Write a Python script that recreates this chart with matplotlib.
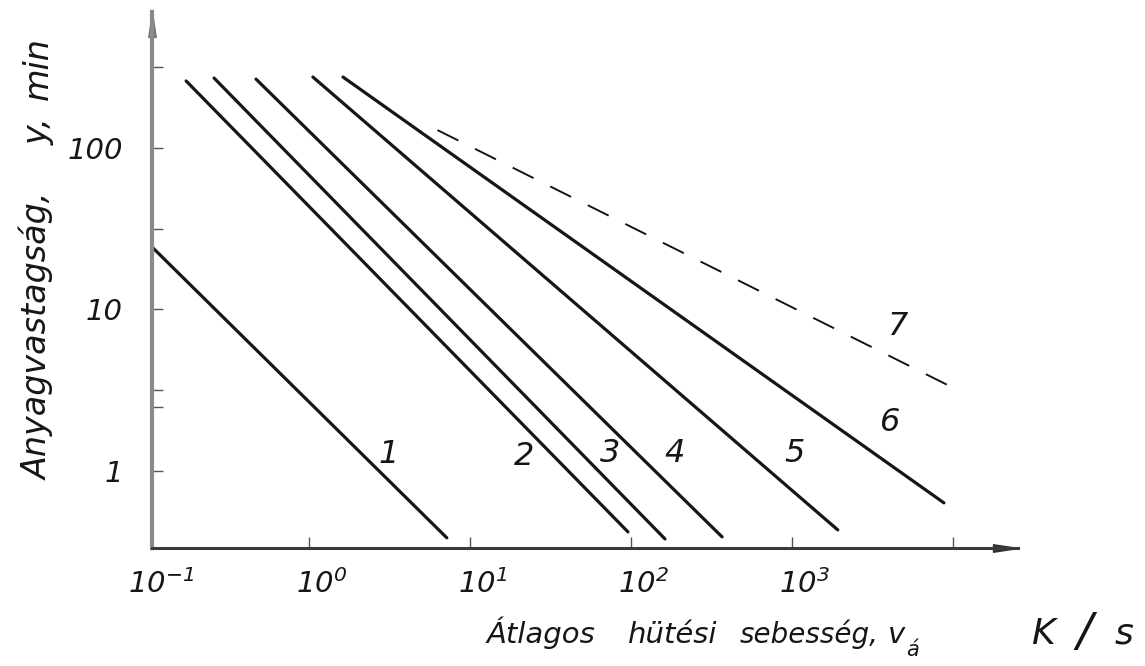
import matplotlib.pyplot as plt
from matplotlib import transforms
from matplotlib.ticker import NullLocator

plt.rcParams['font.family'] = ['DejaVu Sans']
plt.rcParams['font.style'] = 'italic'
plt.rcParams['mathtext.fontset'] = 'custom'
plt.rcParams['mathtext.rm'] = 'DejaVu Sans:italic'
plt.rcParams['mathtext.it'] = 'DejaVu Sans:italic'

# curves 1..6 (solid): start / end points
curve_names = ['1', '2', '3', '4', '5', '6']
v_start = [0.106, 0.173, 0.258, 0.470, 1.06, 1.63]
y_start = [24.4, 260, 271, 267, 275, 275]
v_end = [7.2, 96, 163, 369, 1930, 8800]
y_end = [0.385, 0.419, 0.379, 0.390, 0.431, 0.634]
# where the curve numbers sit
name_v = [3.15, 21.7, 74.3, 188, 1047, 4075]
name_y = [1.26, 1.22, 1.29, 1.29, 1.29, 1.98]

# curve 7 (dashed)
v7 = [6.3, 9300]
y7 = [129, 3.4]
name7_v, name7_y = 4500, 7.8

x_ticks = [0.1, 1, 10, 100, 1000]
x_tick_labels = ['$10^{-1}$', '$10^{0}$', '$10^{1}$', '$10^{2}$', '$10^{3}$']
y_ticks = [1, 2.5, 10**0.5, 10, 10**1.5, 100, 10**2.5]
y_tick_labels = ['1', '', '', '10', '', '100', '']

W, H = 1145, 666
fig = plt.figure(figsize=(W / 100, H / 100), dpi=100)
ax = fig.add_axes([152 / W, 118 / H, 866 / W, 536 / H])
ax.set_xscale('log')
ax.set_yscale('log')
ax.set_xlim(0.1062, 25400)
ax.set_ylim(0.333, 695)

ink = '#161616'
for i in range(len(curve_names)):
    ax.plot([v_start[i], v_end[i]], [y_start[i], y_end[i]],
            color=ink, lw=2.3, solid_capstyle='round')
    ax.text(name_v[i], name_y[i], curve_names[i], fontsize=23,
            ha='center', va='center', color=ink)

ax.plot(v7, y7, color=ink, lw=1.4, dashes=(12, 9.6))
ax.text(name7_v, name7_y, '7', fontsize=23, ha='center', va='center', color=ink)

# axes, hand-drawn look
for s in ['top', 'right']:
    ax.spines[s].set_visible(False)
ax.spines['left'].set_color('#8a8a8a')
ax.spines['left'].set_linewidth(3)
ax.spines['bottom'].set_color('#3a3a3a')
ax.spines['bottom'].set_linewidth(2.2)
# arrow heads with the tip on the end of the spine
head_up = [(0, 0), (-0.3, -2), (0.3, -2), (0, 0)]
ax.plot(0, 1, marker=head_up, ms=36, color='#777777', transform=ax.transAxes,
        clip_on=False)
head_r = [(0, 0), (-2, 0.3), (-2, -0.3), (0, 0)]
ax.plot(1, 0, marker=head_r, ms=36, color='#333333', transform=ax.transAxes,
        clip_on=False)

ax.xaxis.set_minor_locator(NullLocator())
ax.yaxis.set_minor_locator(NullLocator())
ax.set_xticks([1, 10, 100, 1000, 10000])
ax.set_xticklabels([])
ax.set_yticks(y_ticks)
ax.set_yticklabels(y_tick_labels)
ax.tick_params(axis='both', direction='in', length=8, width=1, color='#555555')
ax.tick_params(axis='y', labelsize=21, pad=21, labelcolor=ink)

off = transforms.ScaledTranslation(0.13, -0.36, fig.dpi_scale_trans)
for xv, lab in zip(x_ticks, x_tick_labels):
    ax.text(xv, 0, lab, transform=ax.get_xaxis_transform() + off,
            fontsize=21, ha='center', va='center', color=ink, clip_on=False)

# axis titles
fig.text(487 / W, 23 / H, 'Átlagos', fontsize=21, ha='left', va='baseline', color=ink)
fig.text(628 / W, 23 / H, 'hütési', fontsize=21, ha='left', va='baseline', color=ink)
fig.text(740 / W, 23 / H, 'sebesség,', fontsize=20, ha='left', va='baseline', color=ink)
fig.text(888 / W, 23 / H, 'v', fontsize=21, ha='left', va='baseline', color=ink)
fig.text(906 / W, 10 / H, 'á', fontsize=15, ha='left', va='baseline', color=ink)
fig.text(1043 / W, 32 / H, 'K', fontsize=26, ha='center', va='center', color=ink)
fig.text(1084 / W, 32 / H, '/', fontsize=34, ha='center', va='center', color=ink)
fig.text(1124 / W, 32 / H, 's', fontsize=26, ha='center', va='center', color=ink)

fig.text(38 / W, 1 - 336 / H, 'Anyagvastagság,', fontsize=24, rotation=90,
         ha='center', va='center', color=ink)
fig.text(38 / W, 1 - 131 / H, 'y,', fontsize=24, rotation=90,
         ha='center', va='center', color=ink)
fig.text(38 / W, 1 - 69 / H, 'min', fontsize=24, rotation=90,
         ha='center', va='center', color=ink)

fig.savefig('out.png', dpi=100)
